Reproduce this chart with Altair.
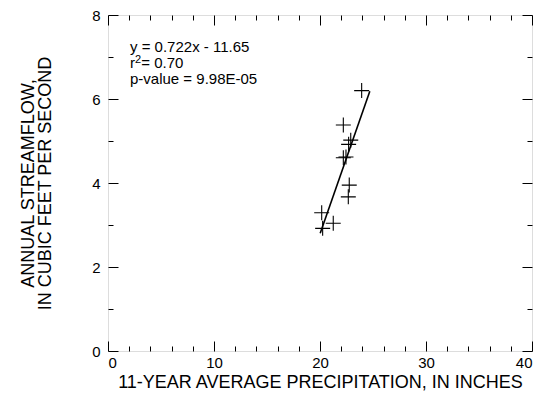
import altair as alt
import pandas as pd

# Data
precip = [23.93, 22.20, 22.90, 22.70, 22.20, 22.45, 22.76, 22.67, 20.16, 21.25, 20.25]
flow = [6.20, 5.38, 5.02, 4.92, 4.60, 4.62, 3.95, 3.67, 3.29, 3.04, 2.92]
fit_x = [20.02, 24.70]
slope = 0.722
intercept = -11.65

x_major = [0, 10, 20, 30, 40]
x_minor = [v for v in range(2, 40, 2) if v % 10 != 0]
y_major = [0, 2, 4, 6, 8]
y_minor = [1, 3, 5, 7]

eq_text = "y = 0.722x - 11.65"
r2_lead = "r"
r2_sup = "2"
r2_tail = " = 0.70"
p_text = "p-value = 9.98E-05"

x_title = "11-YEAR AVERAGE PRECIPITATION, IN INCHES"
y_title = ["ANNUAL STREAMFLOW,", "IN CUBIC FEET PER SECOND"]

FONT = "Liberation Sans"
pts = pd.DataFrame({"x": precip, "y": flow})
fit = pd.DataFrame({"x": fit_x})

xs = alt.Scale(domain=[0, 40], nice=False, zero=False)
ys = alt.Scale(domain=[0, 8], nice=False, zero=False)


def axis(orient, values, size, labels=False, **kw):
    return alt.Axis(
        orient=orient, values=values, tickSize=size, offset=-size,
        domain=False, grid=False, labels=labels, ticks=True,
        tickColor="black", tickWidth=1, **kw
    )


lab = dict(labelFont=FONT, labelFontSize=15, labelColor="black")
ttl = dict(titleFont=FONT, titleFontSize=18, titleFontWeight="normal", titleColor="black")

cross = "M-1,0L1,0M0,-1L0,1"

points = alt.Chart(pts).mark_point(
    shape=cross, size=225, stroke="black", strokeWidth=1.1, filled=False, opacity=1
).encode(
    x=alt.X("x:Q", scale=xs, title=x_title,
            axis=axis("bottom", x_major, 10, labels=True, labelPadding=4,
                      titlePadding=3, **lab, **ttl)),
    y=alt.Y("y:Q", scale=ys, title=y_title,
            axis=axis("left", y_major, 10, labels=True, labelPadding=8,
                      titlePadding=37, titleLineHeight=17, **lab, **ttl)),
)

line = alt.Chart(fit).transform_calculate(
    y=f"{slope} * datum.x + ({intercept})"
).mark_line(color="black", strokeWidth=1.6).encode(
    x=alt.X("x:Q", scale=xs, title=None, axis=axis("bottom", x_minor, 5)),
    y=alt.Y("y:Q", scale=ys, title=None, axis=axis("left", y_minor, 5)),
)

top_major = alt.Chart(pts).mark_point(opacity=0).encode(
    x=alt.X("x:Q", scale=xs, title=None, axis=axis("top", x_major, 10)),
    y=alt.Y("y:Q", scale=ys, title=None, axis=axis("right", y_major, 10)),
)

top_minor = alt.Chart(pts).mark_point(opacity=0).encode(
    x=alt.X("x:Q", scale=xs, title=None, axis=axis("top", x_minor, 5)),
    y=alt.Y("y:Q", scale=ys, title=None, axis=axis("right", y_minor, 5)),
)


def label(text, x, y, size=15):
    return alt.Chart(pd.DataFrame({"t": [text]})).mark_text(
        align="left", baseline="alphabetic", font=FONT, fontSize=size, color="black"
    ).encode(text="t:N", x=alt.value(x), y=alt.value(y))


texts = [
    label(eq_text, 22, 37),
    label(r2_lead, 22, 53),
    label(r2_sup, 27, 48, size=11),
    label(r2_tail, 33.2, 53),
    label(p_text, 22, 69),
]

chart = alt.layer(points, line, top_major, top_minor, *texts).resolve_axis(
    x="independent", y="independent"
).properties(
    width=424, height=336,
    autosize=alt.AutoSizeParams(type="none"),
    padding={"left": 100, "top": 7, "right": 6, "bottom": 50},
).configure_view(
    stroke="black", strokeWidth=1
).configure(font=FONT, background="white")

chart.save("out.html", embed_options={"renderer": "svg", "actions": False})
